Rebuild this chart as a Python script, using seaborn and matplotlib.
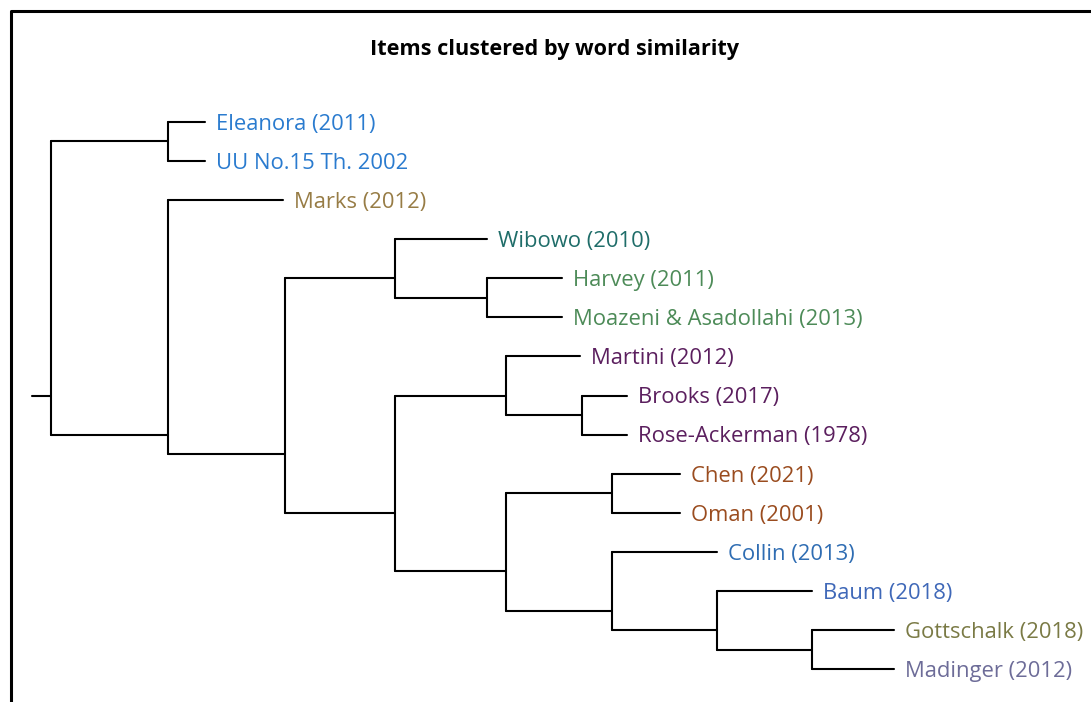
import matplotlib
matplotlib.use('Agg')

import matplotlib.pyplot as plt
import numpy as np
import pandas as pd
import seaborn as sns

# leaves, top to bottom
leaves = [
    'Eleanora (2011)', 'UU No.15 Th. 2002', 'Marks (2012)', 'Wibowo (2010)',
    'Harvey (2011)', 'Moazeni & Asadollahi (2013)', 'Martini (2012)',
    'Brooks (2017)', 'Rose-Ackerman (1978)', 'Chen (2021)', 'Oman (2001)',
    'Collin (2013)', 'Baum (2018)', 'Gottschalk (2018)', 'Madinger (2012)',
]
leaf_colors = [
    '#2a7bcf', '#2a7bcf', '#977c45', '#1f6d69', '#4d8b58', '#4d8b58',
    '#5b1f5e', '#5b1f5e', '#5b1f5e', '#9a4c1f', '#9a4c1f',
    '#2f6db3', '#3f68b8', '#7a7a45', '#6d6c98',
]
# distance from root where each leaf branch ends
leaf_depth = [1.54, 1.54, 2.32, 4.36, 5.11, 5.11, 5.29, 5.76, 5.76,
              6.29, 6.29, 6.66, 7.61, 8.43, 8.43]

# internal nodes: children (leaf index or node name) and merge depth
node_children = {
    'root': ['A', 'B'],
    'A': [0, 1],
    'B': [2, 'C'],
    'C': ['D', 'F'],
    'D': [3, 'E'],
    'E': [4, 5],
    'F': ['G', 'H'],
    'G': [6, 'I'],
    'I': [7, 8],
    'H': ['J', 'K'],
    'J': [9, 10],
    'K': [11, 'L'],
    'L': [12, 'M'],
    'M': [13, 14],
}
node_depth = {
    'root': 0.0, 'A': 1.17, 'B': 1.17, 'C': 2.34, 'D': 3.44, 'E': 4.36,
    'F': 3.44, 'G': 4.55, 'I': 5.31, 'H': 4.55, 'J': 5.61, 'K': 5.61,
    'L': 6.66, 'M': 7.61,
}
root_stub = -0.19


def leaves_under(n):
    if isinstance(n, int):
        return [n]
    out = []
    for c in node_children[n]:
        out += leaves_under(c)
    return out


def pos(n):
    return float(np.mean(leaves_under(n)))


def depth(n):
    return leaf_depth[n] if isinstance(n, int) else node_depth[n]


rows = []
seg = 0
for n, kids in node_children.items():
    d = node_depth[n]
    ys = [pos(k) for k in kids]
    rows += [(seg, d, min(ys)), (seg, d, max(ys))]
    seg += 1
    for k in kids:
        rows += [(seg, d, pos(k)), (seg, depth(k), pos(k))]
        seg += 1
rows += [(seg, root_stub, pos('root')), (seg, 0.0, pos('root'))]
segments = pd.DataFrame(rows, columns=['seg', 'x', 'y'])

sns.set_theme(style='white')
plt.rcParams['font.family'] = ['Open Sans', 'DejaVu Sans']

fig = plt.figure(figsize=(10.91, 7.02), dpi=100)
ax = fig.add_axes([0, 0, 1, 1])

sns.lineplot(data=segments, x='x', y='y', units='seg', estimator=None,
             sort=False, color='black', linewidth=1.5, ax=ax)

for i, name in enumerate(leaves):
    ax.text(leaf_depth[i] + 0.11, i + 0.06, name, color=leaf_colors[i],
            fontsize=15.8, va='center', ha='left')

ax.set_xlim(-0.51, 10.40)
ax.set_ylim(14.84, -3.12)
ax.axis('off')

fig.text(555 / 1091, 1 - 50 / 702, 'Items clustered by word similarity',
         ha='center', va='center', fontsize=15.6, fontweight='bold',
         color='black')

# outer frame (top and left edges visible)
fig.add_artist(plt.Line2D([11 / 1091, 11 / 1091, 1.0], [0.0, 1 - 11 / 702, 1 - 11 / 702],
                          transform=fig.transFigure, color='black', linewidth=2.2))

plt.savefig('out.png', dpi=100)
